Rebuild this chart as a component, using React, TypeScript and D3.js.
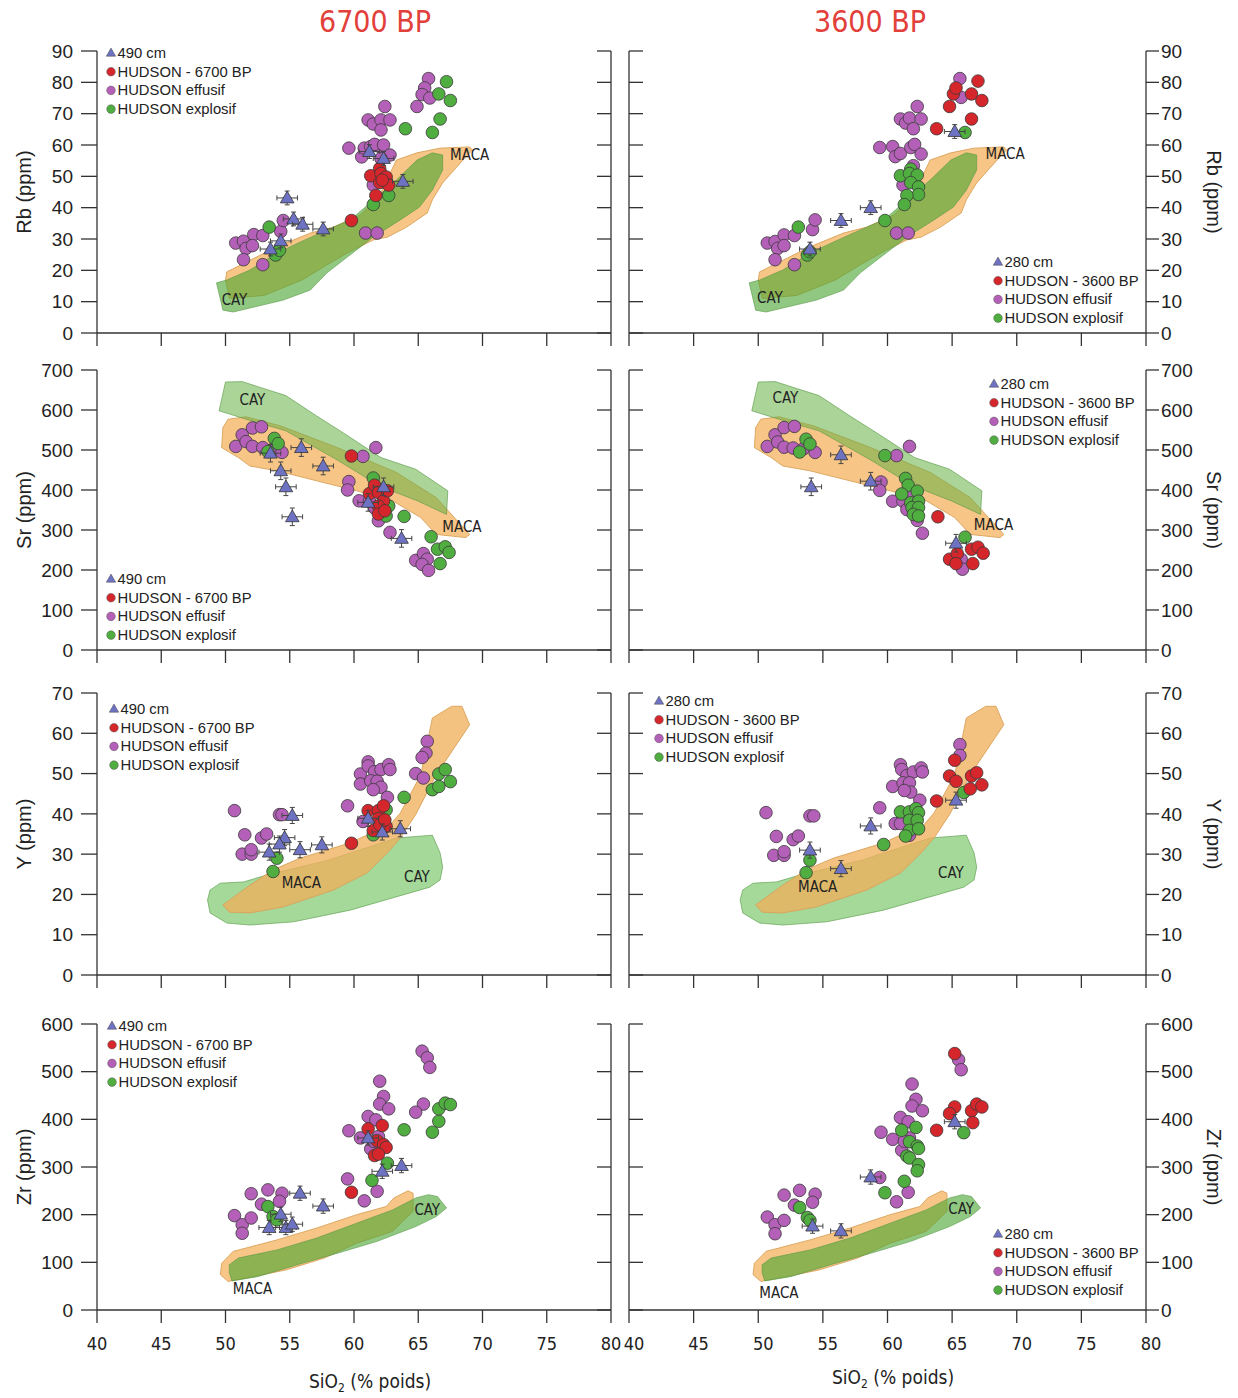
import React from "react";
import * as d3 from "d3";

type Pt = [number, number];

// ---------- Common axis values ----------
const sio2Ticks = [40, 45, 50, 55, 60, 65, 70, 75, 80];
const rbTicks = [0, 10, 20, 30, 40, 50, 60, 70, 80, 90];
const srTicks = [0, 100, 200, 300, 400, 500, 600, 700];
const yTicks = [0, 10, 20, 30, 40, 50, 60, 70];
const zrTicks = [0, 100, 200, 300, 400, 500, 600];

// ---------- Reference fields (SiO2 %, ppm) ----------
const rbMaca: Pt[] = [[50.0, 16.9], [50.1, 19.5], [54.0, 27.5], [56.6, 31.9], [58.4, 33.8], [60.5, 37.7], [62.0, 44], [63.3, 55.2], [64.9, 57.5], [66.7, 59.0], [69.0, 59.4], [69.2, 58.4], [68.0, 53.0], [66.9, 47.9], [66.1, 42.5], [65.7, 38.3], [64.1, 33.8], [62.6, 30.6], [61.5, 29.7], [59.7, 26], [58, 22], [56, 17], [53, 12], [50.3, 11]];
const rbCay: Pt[] = [[49.3, 16.0], [49.8, 7.3], [50.6, 6.7], [54.5, 10.5], [56.6, 13.7], [57.9, 19.2], [59.5, 24.3], [61.5, 30.6], [63.6, 36.1], [65.1, 40.2], [66.1, 45.6], [66.9, 52.0], [66.9, 56.8], [66.1, 57.5], [64.9, 55.2], [63.3, 48.8], [61.8, 43.4], [59.7, 36.1], [57.9, 32.9], [55.8, 29.0], [54.0, 25.5], [51.9, 20.1], [50.1, 16.9]];

const srMaca: Pt[] = [[49.8, 556], [50.2, 577], [51.6, 583], [54.3, 560], [58.7, 506], [63.3, 444], [66.4, 381], [69, 289], [68.7, 281], [66.4, 289], [65.2, 331], [63, 373], [60.2, 398], [57.1, 423], [54, 448], [51.9, 460], [51, 481], [49.7, 506]];
const srCay: Pt[] = [[49.5, 598], [50, 670], [51.3, 671], [54.7, 636], [57.1, 585], [59.3, 540], [62.1, 481], [64.8, 452], [67.3, 398], [67.2, 339], [65, 372], [62, 410], [58.7, 475], [54.7, 548], [51.6, 577]];

const yMaca: Pt[] = [[49.8, 17.4], [51.9, 22.3], [53.7, 26.1], [55.8, 29], [59.7, 32.8], [60.7, 34.3], [62.6, 36.5], [63.6, 40.2], [65.2, 49.7], [66.1, 63.8], [67.6, 66.7], [68.4, 66.7], [69, 62.1], [66.4, 49.7], [64.8, 39.8], [63.6, 34], [62.6, 30.3], [61, 25.3], [58.4, 21.1], [54.5, 16.9], [51.9, 15.4], [50.3, 15.6]];
const yCay: Pt[] = [[48.6, 18.6], [48.8, 21.1], [49.6, 22.8], [51.4, 23.1], [53.2, 24.8], [58, 28.5], [63.3, 34.0], [66.1, 34.7], [66.7, 30.3], [66.9, 26.8], [66.7, 23.6], [65.9, 21.8], [59.7, 16.1], [55.3, 13.2], [51.9, 12.4], [50.1, 12.9], [48.8, 15.4]];

const zrMaca: Pt[] = [[49.7, 98], [50.6, 123], [54, 147], [57.1, 172], [60.2, 200], [62.5, 217], [63.1, 235], [64.2, 250], [64.6, 245], [64.6, 207], [63, 165], [60.2, 140], [57.7, 109], [54.7, 84], [51.6, 67], [50.2, 60], [49.6, 74]];
const zrCay: Pt[] = [[50.3, 95], [51, 109], [54, 126], [57.1, 151], [60.2, 182], [63, 210], [64.8, 235], [65.8, 242], [66.5, 238], [67.2, 214], [66.4, 196], [64.8, 175], [61.8, 144], [58.7, 119], [55.6, 95], [52.5, 70], [50.5, 61], [50.3, 78]];

// ---------- Rb ----------
const rbEffusif6700: Pt[] = [[50.8, 28.7], [51.4, 29.3], [51.6, 27], [52.2, 31.4], [52.1, 27.9], [52.9, 31.1], [51.4, 23.4], [52.9, 21.8], [54.3, 32.4], [54.5, 35.9], [59.6, 59], [60.6, 56.2], [60.8, 59], [61.1, 68], [61.5, 66.7], [62.1, 68], [62.8, 68], [62.4, 72.3], [62.1, 64.8], [62, 59.5], [61.3, 59.5], [61.6, 60.2], [62.3, 60], [62.8, 56.8], [61.5, 47.2], [60.9, 31.9], [61.8, 31.9], [65.8, 81.2], [65.5, 78.2], [65.3, 76.1], [65.9, 75], [64.9, 72.3], [62.1, 55.7]];
const rbExplosif6700: Pt[] = [[53.4, 33.8], [54, 25.7], [53.9, 24.9], [54.2, 26.4], [61.5, 41], [62.7, 43.9], [64, 65.2], [66.1, 64], [66.7, 68.3], [66.6, 76.3], [67.2, 80.2], [67.5, 74.2]];
const rbHudson6700: Pt[] = [[59.8, 35.9], [61.3, 50.2], [62, 52.5], [62.1, 50.9], [62, 48], [62.5, 49.8], [62.7, 47.2], [61.7, 43.9], [62.2, 48.8]];
const rbTephra490: Pt[] = [[54.8, 43.1], [55.3, 36.4], [56, 34.7], [57.6, 33.2], [54.3, 29.4], [53.5, 26.8], [61.2, 57.9], [62.3, 55.7], [63.8, 48.4]];

const rbEffusif3600: Pt[] = [[50.7, 28.7], [51.3, 29.2], [51.5, 27], [52, 31.3], [52, 27.9], [52.8, 31.1], [51.3, 23.4], [52.8, 21.8], [54.2, 33], [54.4, 36.1], [59.4, 59.2], [60.4, 59.5], [60.6, 56.3], [61, 68.3], [61.4, 67], [61.7, 68.6], [62.6, 68.3], [62.3, 72.3], [62, 65.2], [61, 57.3], [61.8, 59.2], [62.1, 60.2], [62.6, 57.1], [62, 53.4], [61.2, 47.2], [60.7, 31.9], [61.6, 31.9], [65.6, 81.2], [65.7, 75.2]];
const rbExplosif3600: Pt[] = [[53.1, 33.8], [53.8, 24.9], [54, 25.9], [59.8, 35.9], [61, 50.2], [61.8, 52.3], [61.7, 50.9], [62.3, 50.4], [61.8, 48], [62.4, 46.6], [62.4, 44.2], [61.5, 43.9], [61.3, 41], [66, 64]];
const rbHudson3600: Pt[] = [[63.8, 65.2], [64.8, 72.3], [65.1, 76.3], [65.3, 78.2], [66.5, 76.3], [66.5, 68.3], [67, 80.4], [67.3, 74.2]];
const rbTephra280: Pt[] = [[56.4, 35.9], [58.7, 40], [54, 26.8], [65.2, 64.3]];

// ---------- Sr ----------
const srEffusif6700: Pt[] = [[50.8, 509], [51.3, 538], [51.6, 521], [52.1, 509], [52.1, 555], [52.8, 558], [52.9, 506], [53.7, 502], [54.4, 494], [59.6, 421], [59.5, 400], [60.7, 484], [61.7, 506], [60.4, 373], [61.2, 372], [61.9, 323], [62.8, 294], [64.8, 224], [65.4, 241], [65.7, 227], [65.3, 214], [65.8, 199], [62.4, 348], [61.6, 355]];
const srExplosif6700: Pt[] = [[53.8, 529], [54.1, 516], [53.3, 496], [61.5, 430], [62.7, 360], [62.5, 335], [63.9, 334], [66, 283], [66.5, 252], [67.1, 258], [67.4, 244], [66.7, 216]];
const srHudson6700: Pt[] = [[59.8, 485], [61.2, 391], [61.6, 412], [61.9, 394], [62.3, 373], [61.9, 360], [61.9, 340], [62.6, 398], [62.4, 348]];
const srTephra490: Pt[] = [[53.5, 492], [55.9, 506], [57.6, 460], [54.3, 448], [54.7, 408], [55.2, 333], [61.1, 369], [62.3, 408], [63.7, 279]];

const srEffusif3600: Pt[] = [[50.7, 509], [51.3, 538], [51.5, 520], [52, 507], [52, 556], [52.8, 559], [52.7, 505], [53.5, 503], [54.4, 494], [59.5, 420], [59.4, 399], [60.7, 486], [61.7, 509], [60.4, 372], [61.2, 372], [61.5, 351], [62.3, 324], [62.7, 292], [65.7, 227], [65.8, 202], [61.8, 389]];
const srExplosif3600: Pt[] = [[53.7, 527], [54, 515], [53.2, 495], [59.8, 486], [61.4, 429], [61.6, 412], [61.1, 390], [62.3, 397], [61.8, 368], [62.4, 372], [61.9, 356], [62.4, 356], [62, 339], [62.4, 335], [66, 282]];
const srHudson3600: Pt[] = [[63.9, 333], [64.8, 227], [65.4, 241], [65.3, 216], [66.5, 252], [67, 257], [67.4, 242], [66.6, 216]];
const srTephra280: Pt[] = [[54.1, 408], [56.4, 488], [58.7, 422], [65.3, 267]];

// ---------- Y ----------
const yEffusif6700: Pt[] = [[50.7, 40.8], [51.5, 34.8], [51.3, 30], [52, 30], [52, 31.1], [52.8, 34], [53.2, 35], [54.2, 39.8], [54.4, 39.8], [59.5, 42], [60.5, 49.9], [60.5, 47.4], [61.1, 52.9], [61.1, 51.9], [61.6, 50.5], [62.1, 51], [62.7, 52.2], [62.8, 51], [61.3, 48.2], [61.8, 48.1], [62.1, 46.6], [61.5, 46], [62.6, 44.1], [60.7, 38.1], [65.7, 58], [65.6, 55.1], [65.3, 54], [64.8, 50], [65.4, 48.9]];
const yExplosif6700: Pt[] = [[54, 29], [53.7, 25.7], [61.5, 34.8], [62.2, 38.8], [62.5, 41], [63.9, 44.1], [66.1, 46], [66.6, 46.8], [66.6, 49.9], [67.1, 51], [67.5, 48]];
const yHudson6700: Pt[] = [[59.8, 32.7], [61.1, 40.8], [61.9, 40.8], [62.3, 42], [61.9, 38.8], [61.5, 35.9], [62.5, 36.9], [62, 37.3], [62.4, 38.5]];
const yTephra490: Pt[] = [[55.2, 39.6], [54.6, 34.1], [54.2, 32.5], [53.4, 30.5], [55.8, 31.1], [57.5, 32.3], [61.1, 38.9], [62.2, 35.5], [63.6, 36.3]];

const yEffusif3600: Pt[] = [[50.6, 40.3], [51.4, 34.4], [51.2, 29.7], [52, 29.7], [52, 30.6], [52.7, 33.6], [53.1, 34.5], [54, 39.5], [54.3, 39.5], [59.4, 41.5], [60.4, 46.8], [61, 52.2], [61.1, 51], [61.5, 49.5], [62, 50.4], [62.6, 51.4], [62.7, 50.4], [61.2, 47.7], [61.7, 47.7], [61.8, 45.4], [61.3, 45.8], [62.5, 43.4], [60.6, 37.6], [61, 37.6], [65.6, 57.2], [65.6, 54.5], [61.7, 34.7]];
const yExplosif3600: Pt[] = [[54, 28.5], [53.7, 25.4], [59.7, 32.4], [61, 40.5], [61.7, 40.5], [62.2, 41.3], [62.4, 40.3], [61.7, 38.4], [62.3, 38.4], [61.7, 35.9], [62.4, 36.3], [61.4, 34.5], [65.9, 45.3]];
const yHudson3600: Pt[] = [[63.8, 43.2], [65.2, 53.3], [64.8, 49.4], [65.3, 48.1], [66.5, 49.4], [66.9, 50.2], [67.3, 47.2], [66.4, 46.2]];
const yTephra280: Pt[] = [[54, 31], [56.4, 26.4], [58.7, 37], [65.3, 43.4]];

// ---------- Zr ----------
const zrEffusif6700: Pt[] = [[50.7, 198], [51.3, 179], [51.3, 161], [52, 193], [52, 244], [52.8, 222], [53.3, 252], [54.4, 245], [54.2, 228], [59.5, 275], [59.6, 376], [60.5, 361], [60.8, 229], [61.8, 249], [61.1, 406], [61.7, 399], [61.3, 338], [62, 480], [62.3, 448], [62, 432], [62.7, 422], [65.3, 543], [65.7, 529], [65.9, 509], [65.4, 432], [64.8, 415], [61.9, 364], [61.5, 354]];
const zrExplosif6700: Pt[] = [[53.3, 217], [53.7, 196], [54, 189], [61.4, 272], [62.6, 308], [63.9, 378], [66.1, 373], [66.6, 396], [66.6, 422], [67.1, 434], [67.5, 431]];
const zrHudson6700: Pt[] = [[59.8, 247], [61.1, 380], [62.2, 387], [61.8, 355], [62.3, 347], [62.5, 341], [61.6, 324], [61.9, 327]];
const zrTephra490: Pt[] = [[55.8, 245], [57.6, 218], [54.3, 201], [53.4, 173], [54.7, 173], [55.2, 180], [61.1, 361], [62.2, 291], [63.7, 303]];

const zrEffusif3600: Pt[] = [[50.7, 195], [51.3, 179], [51.3, 160], [52, 188], [52, 241], [52.8, 220], [53.2, 251], [54.4, 243], [54.2, 226], [59.4, 278], [59.5, 373], [60.4, 358], [60.7, 227], [61.6, 247], [61, 404], [61.6, 395], [61.1, 335], [61.9, 474], [62.2, 442], [61.9, 428], [62.7, 418], [65.5, 525], [65.7, 504], [61.7, 361], [61.3, 354]];
const zrExplosif3600: Pt[] = [[53.2, 215], [53.8, 194], [54, 188], [59.8, 246], [61.3, 270], [61.1, 377], [62.2, 383], [61.7, 353], [62.3, 344], [62.4, 339], [61.5, 323], [61.7, 319], [62.4, 305], [62.3, 292], [65.9, 372]];
const zrHudson3600: Pt[] = [[65.2, 538], [65.2, 426], [64.8, 412], [63.8, 377], [66.5, 418], [66.9, 432], [67.3, 426], [66.6, 393]];
const zrTephra280: Pt[] = [[54.2, 176], [56.4, 166], [58.7, 279], [65.2, 395]];

// Field label anchors (SiO2 %, ppm)
const fieldLabels: { maca: Pt; cay: Pt }[][] = [
  [{ maca: [69, 56.5], cay: [50.7, 10.5] }, { maca: [69.1, 57], cay: [50.9, 10.9] }],
  [{ maca: [68.4, 307], cay: [52.1, 625] }, { maca: [68.2, 312], cay: [52.1, 630] }],
  [{ maca: [55.9, 22.6], cay: [64.9, 24.3] }, { maca: [54.6, 21.6], cay: [64.9, 25.3] }],
  [{ maca: [52.1, 42], cay: [65.7, 209] }, { maca: [51.6, 35], cay: [65.7, 210] }],
];

const periodTitles = ["6700 BP", "3600 BP"];
const tephraNames = ["490 cm", "280 cm"];
const hudsonNames = ["HUDSON - 6700 BP", "HUDSON - 3600 BP"];
const effusifName = "HUDSON effusif";
const explosifName = "HUDSON explosif";

// ---------- Layout ----------
const W = 1238;
const H = 1398;
const colX: [number, number][] = [[97, 611], [629, 1146]];
const rowY: [number, number][] = [[51, 333], [370, 650], [693, 975], [1024, 1310]];

const COLORS = {
  effusif: "#b460b8",
  explosif: "#4fae3f",
  hudson: "#d4262b",
  tephra: "#6e72c3",
  macaStroke: "#d9a15a",
  cayStroke: "#5a9a48",
  axis: "#333",
};

const FONT = "'Liberation Sans', Arial, sans-serif";
const NARROW = "'Liberation Sans Narrow', 'DejaVu Sans Condensed', sans-serif";

interface FieldStyle { fill: string; opacity: number }

interface RowDef {
  label: string;
  ticks: number[];
  yErr: number;
  maca: Pt[];
  cay: Pt[];
  cayOnTop: boolean;
  macaStyle: FieldStyle;
  cayStyle: FieldStyle;
  sets: { effusif: Pt[]; explosif: Pt[]; hudson: Pt[]; tephra: Pt[] }[];
  legends: { x: number; y: number }[];
}

const greenOver: FieldStyle = { fill: "#4ca634", opacity: 0.62 };
const orangeUnder: FieldStyle = { fill: "#f7c27e", opacity: 0.95 };

const rows: RowDef[] = [
  {
    label: "Rb (ppm)", ticks: rbTicks, yErr: 2.2, maca: rbMaca, cay: rbCay, cayOnTop: true,
    macaStyle: orangeUnder, cayStyle: greenOver,
    sets: [
      { effusif: rbEffusif6700, explosif: rbExplosif6700, hudson: rbHudson6700, tephra: rbTephra490 },
      { effusif: rbEffusif3600, explosif: rbExplosif3600, hudson: rbHudson3600, tephra: rbTephra280 },
    ],
    legends: [{ x: 111, y: 53 }, { x: 998, y: 262 }],
  },
  {
    label: "Sr (ppm)", ticks: srTicks, yErr: 22, maca: srMaca, cay: srCay, cayOnTop: true,
    macaStyle: orangeUnder, cayStyle: { fill: "#66b045", opacity: 0.55 },
    sets: [
      { effusif: srEffusif6700, explosif: srExplosif6700, hudson: srHudson6700, tephra: srTephra490 },
      { effusif: srEffusif3600, explosif: srExplosif3600, hudson: srHudson3600, tephra: srTephra280 },
    ],
    legends: [{ x: 111, y: 579 }, { x: 994, y: 384 }],
  },
  {
    label: "Y (ppm)", ticks: yTicks, yErr: 2, maca: yMaca, cay: yCay, cayOnTop: false,
    macaStyle: { fill: "#f0b05c", opacity: 0.78 }, cayStyle: { fill: "#8fcf80", opacity: 0.8 },
    sets: [
      { effusif: yEffusif6700, explosif: yExplosif6700, hudson: yHudson6700, tephra: yTephra490 },
      { effusif: yEffusif3600, explosif: yExplosif3600, hudson: yHudson3600, tephra: yTephra280 },
    ],
    legends: [{ x: 114, y: 709 }, { x: 659, y: 701 }],
  },
  {
    label: "Zr (ppm)", ticks: zrTicks, yErr: 15, maca: zrMaca, cay: zrCay, cayOnTop: true,
    macaStyle: orangeUnder, cayStyle: greenOver,
    sets: [
      { effusif: zrEffusif6700, explosif: zrExplosif6700, hudson: zrHudson6700, tephra: zrTephra490 },
      { effusif: zrEffusif3600, explosif: zrExplosif3600, hudson: zrHudson3600, tephra: zrTephra280 },
    ],
    legends: [{ x: 112, y: 1026 }, { x: 998, y: 1234 }],
  },
];

const X_ERR = 0.8;
const triPath = d3.symbol().type(d3.symbolTriangle).size(80)() as string;
const triSmall = d3.symbol().type(d3.symbolTriangle).size(38)() as string;

function Legend({ x, y, col }: { x: number; y: number; col: number }) {
  const step = 18.7;
  const items = [
    { kind: "tri", color: COLORS.tephra, text: tephraNames[col] },
    { kind: "dot", color: COLORS.hudson, text: hudsonNames[col] },
    { kind: "dot", color: COLORS.effusif, text: effusifName },
    { kind: "dot", color: COLORS.explosif, text: explosifName },
  ];
  return (
    <g>
      {items.map((it, i) => (
        <g key={i} transform={`translate(${x},${y + i * step})`}>
          {it.kind === "tri" ? (
            <path d={triSmall} transform="translate(0,0.5)" fill={it.color} stroke="#444" strokeWidth={0.5} />
          ) : (
            <circle r={4.3} fill={it.color} stroke="#555" strokeWidth={0.5} />
          )}
          <text x={6.5} y={5} fontFamily={FONT} fontSize={14.8} fill="#222">
            {it.text}
          </text>
        </g>
      ))}
    </g>
  );
}

function Panel({ row, col }: { row: number; col: number }) {
  const def = rows[row];
  const set = def.sets[col];
  const [x0, x1] = colX[col];
  const [yTop, yBot] = rowY[row];
  const yMax = def.ticks[def.ticks.length - 1];
  const xs = d3.scaleLinear().domain([40, 80]).range([x0, x1]);
  const ys = d3.scaleLinear().domain([0, yMax]).range([yBot, yTop]);
  const poly = d3.line<Pt>().x((d) => xs(d[0])).y((d) => ys(d[1])).curve(d3.curveLinearClosed);
  const labels = fieldLabels[row][col];
  const isLeft = col === 0;

  const macaEl = (
    <path key="maca" d={poly(def.maca) || ""} fill={def.macaStyle.fill} fillOpacity={def.macaStyle.opacity} stroke={COLORS.macaStroke} strokeWidth={0.9} />
  );
  const cayEl = (
    <path key="cay" d={poly(def.cay) || ""} fill={def.cayStyle.fill} fillOpacity={def.cayStyle.opacity} stroke={COLORS.cayStroke} strokeOpacity={0.7} strokeWidth={0.9} />
  );

  const dots = (pts: Pt[], color: string, k: string) =>
    pts.map((p, i) => (
      <circle key={k + i} cx={xs(p[0])} cy={ys(p[1])} r={6.3} fill={color} stroke="#3a3a3a" strokeWidth={0.8} />
    ));

  const tickLen = 14;
  const midY = (yTop + yBot) / 2;

  return (
    <g>
      {def.cayOnTop ? [macaEl, cayEl] : [cayEl, macaEl]}
      <text x={xs(labels.maca[0])} y={ys(labels.maca[1])} textAnchor="middle" dominantBaseline="middle" fontFamily={NARROW} fontSize={15} fill="#222">MACA</text>
      <text x={xs(labels.cay[0])} y={ys(labels.cay[1])} textAnchor="middle" dominantBaseline="middle" fontFamily={NARROW} fontSize={15} fill="#222">CAY</text>

      {dots(set.effusif, COLORS.effusif, "e")}
      {dots(set.explosif, COLORS.explosif, "x")}
      {dots(set.hudson, COLORS.hudson, "h")}

      {set.tephra.map((p, i) => {
        const cx = xs(p[0]);
        const cy = ys(p[1]);
        const xl = xs(p[0] - X_ERR);
        const xr = xs(p[0] + X_ERR);
        const yt = ys(p[1] + def.yErr);
        const yb = ys(p[1] - def.yErr);
        return (
          <g key={"t" + i}>
            <g stroke="#444" strokeWidth={1}>
              <line x1={xl} x2={xr} y1={cy} y2={cy} />
              <line x1={xl} x2={xl} y1={cy - 2.5} y2={cy + 2.5} />
              <line x1={xr} x2={xr} y1={cy - 2.5} y2={cy + 2.5} />
              <line x1={cx} x2={cx} y1={yt} y2={yb} />
              <line x1={cx - 2.5} x2={cx + 2.5} y1={yt} y2={yt} />
              <line x1={cx - 2.5} x2={cx + 2.5} y1={yb} y2={yb} />
            </g>
            <path d={triPath} transform={`translate(${cx},${cy + 1})`} fill={COLORS.tephra} stroke="#333" strokeWidth={0.8} />
          </g>
        );
      })}

      {/* frame: left, right and bottom axes */}
      <g stroke={COLORS.axis} strokeWidth={1.3} fill="none">
        <line x1={x0} x2={x0} y1={yTop} y2={yBot} />
        <line x1={x1} x2={x1} y1={yTop} y2={yBot} />
        <line x1={x0} x2={x1} y1={yBot} y2={yBot} />
        {sio2Ticks.map((t) => (
          <line key={"bx" + t} x1={xs(t)} x2={xs(t)} y1={yBot} y2={yBot + 13} />
        ))}
        {def.ticks.map((t) =>
          isLeft ? (
            <g key={"yt" + t}>
              <line x1={x0 - tickLen - 2} x2={x0} y1={ys(t)} y2={ys(t)} />
              <line x1={x1 - tickLen} x2={x1} y1={ys(t)} y2={ys(t)} />
            </g>
          ) : (
            <g key={"yt" + t}>
              <line x1={x0} x2={x0 + tickLen} y1={ys(t)} y2={ys(t)} />
              <line x1={x1} x2={x1 + 13} y1={ys(t)} y2={ys(t)} />
            </g>
          )
        )}
      </g>

      {def.ticks.map((t) => (
        <text
          key={"yl" + t}
          x={isLeft ? x0 - 24 : x1 + 15}
          y={ys(t)}
          dy="0.35em"
          textAnchor={isLeft ? "end" : "start"}
          fontFamily={FONT}
          fontSize={19}
          fill="#222"
        >
          {t}
        </text>
      ))}

      <text
        transform={isLeft ? `translate(26,${midY}) rotate(-90)` : `translate(1212,${midY}) rotate(90)`}
        textAnchor="middle"
        dominantBaseline="middle"
        fontFamily={FONT}
        fontSize={20}
        fill="#222"
      >
        {def.label}
      </text>

      {row === rows.length - 1 &&
        sio2Ticks.map((t) => (
          <text key={"xl" + t} x={xs(t) + (isLeft ? 0 : 5)} y={1350} textAnchor="middle" fontFamily={NARROW} fontSize={18} fill="#222">
            {t}
          </text>
        ))}

      <Legend x={def.legends[col].x} y={def.legends[col].y} col={col} />
    </g>
  );
}

export default function App() {
  return (
    <svg
      width={W}
      height={H}
      viewBox={`0 0 ${W} ${H}`}
      style={{ position: "absolute", left: 0, top: 0, background: "#fff" }}
    >
      <rect width={W} height={H} fill="#fff" />
      {periodTitles.map((t, i) => (
        <text key={t} x={i === 0 ? 375 : 870} y={32} textAnchor="middle" fontFamily={NARROW} fontSize={30} fill="#e2403b">
          {t}
        </text>
      ))}
      {rows.map((_, r) => [0, 1].map((c) => <Panel key={r + "-" + c} row={r} col={c} />))}
      {[370, 893].map((cx, i) => (
        <text key={"xt" + i} x={cx} y={i === 0 ? 1388 : 1384} textAnchor="middle" fontFamily={NARROW} fontSize={19} fill="#222">
          SiO<tspan fontSize={12} dy={4}>2</tspan>
          <tspan dy={-4}> (% poids)</tspan>
        </text>
      ))}
    </svg>
  );
}
